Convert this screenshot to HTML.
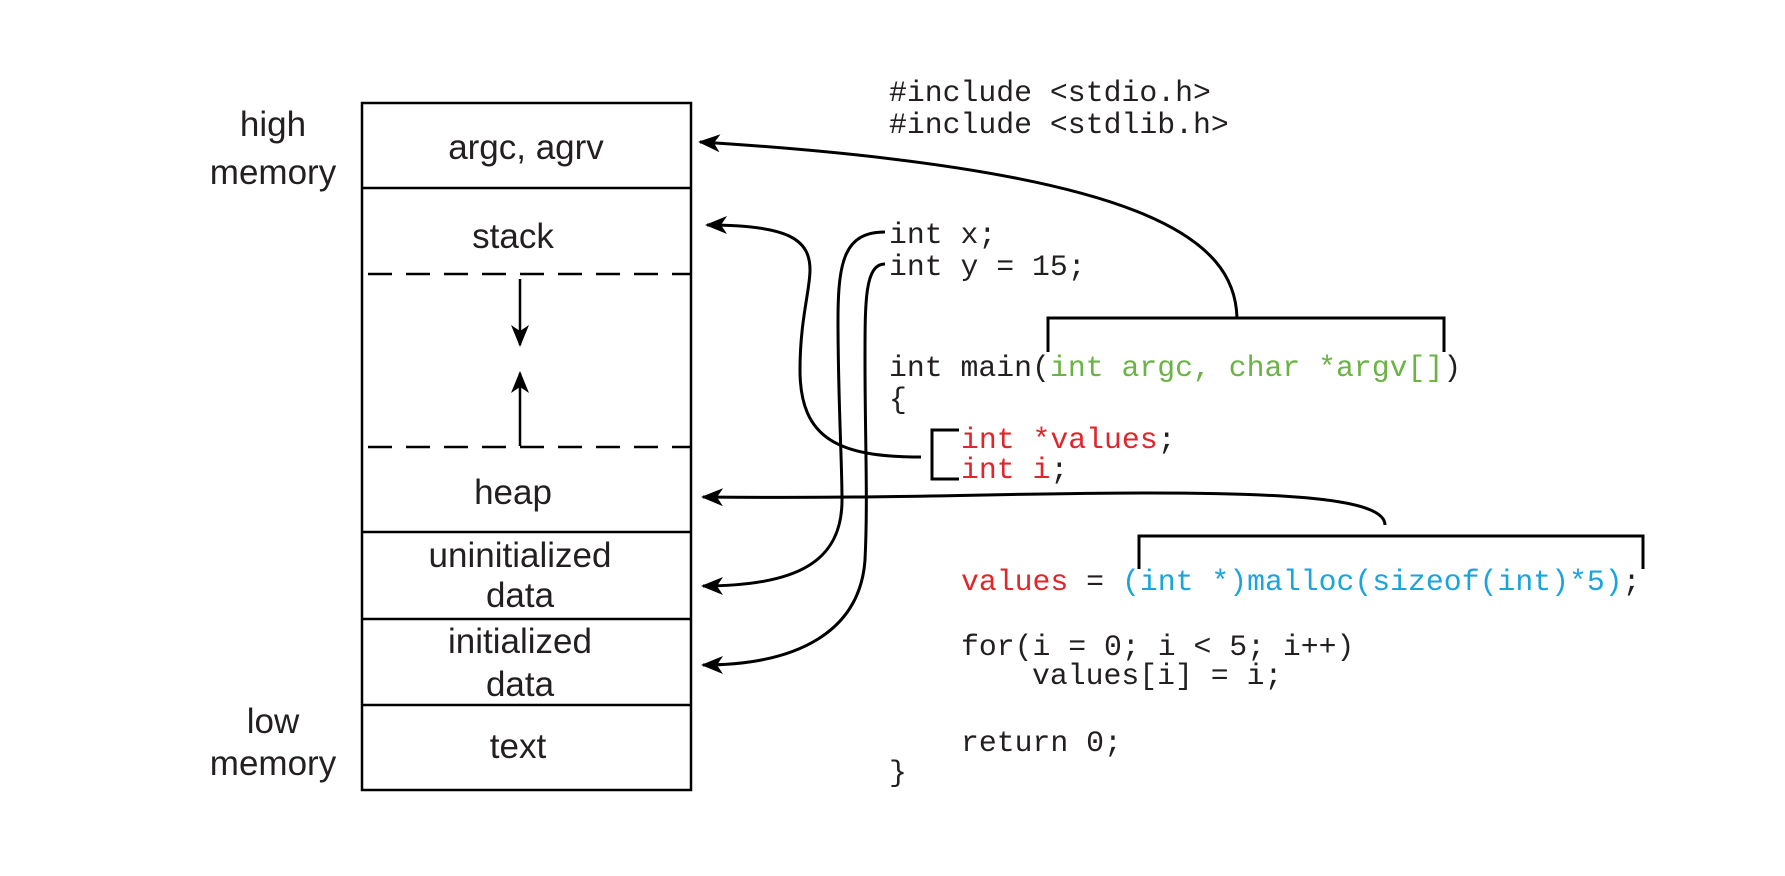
<!DOCTYPE html>
<html><head><meta charset="utf-8"><style>
html,body{margin:0;padding:0;background:#fff;}
svg{display:block}
.s{font-family:"Liberation Sans",sans-serif;font-size:35px;fill:#231f20;text-anchor:middle}
.m{font-family:"Liberation Mono",monospace;font-size:29.8px;fill:#231f20}
.r{fill:#e0262b}.g{fill:#6ab344}.b{fill:#1aa4dc}
</style></head><body>
<svg width="1785" height="876" viewBox="0 0 1785 876" xmlns="http://www.w3.org/2000/svg">
<defs>
<marker id="A" markerWidth="22" markerHeight="18" refX="20" refY="9" orient="auto" markerUnits="userSpaceOnUse"><path d="M0,0 L22,9 L0,18 L6,9 z" fill="#000"/></marker></defs>
<g stroke="#000" stroke-width="2.5" fill="none">
<rect x="362" y="103" width="329" height="687"/>
<line x1="362" y1="188" x2="691" y2="188"/>
<line x1="362" y1="532" x2="691" y2="532"/>
<line x1="362" y1="619" x2="691" y2="619"/>
<line x1="362" y1="705" x2="691" y2="705"/>
<line x1="362" y1="274" x2="691" y2="274" stroke-dasharray="24,14" stroke-dashoffset="-6"/>
<line x1="362" y1="447" x2="691" y2="447" stroke-dasharray="24,14" stroke-dashoffset="-6"/>
<line x1="520" y1="279" x2="520" y2="345" marker-end="url(#A)"/>
<line x1="520" y1="446" x2="520" y2="373" marker-end="url(#A)"/>
<path d="M1048,352 V318 H1444 V352" stroke-width="3"/>
<path d="M1237,318 C1235,240 1150,170 700,142" marker-end="url(#A)" stroke-width="3"/>
<path d="M1139,569 V536 H1643 V569" stroke-width="3"/>
<path d="M1385,525 C1385,500 1300,493 1150,493 C1000,493 900,499 703,497" marker-end="url(#A)" stroke-width="3"/>
<path d="M959,430 H932 V479 H959" stroke-width="3"/>
<path d="M921,457 C840,457 800,440 800,370 C800,320 810,290 810,270 C810,240 790,225 707,225" marker-end="url(#A)" stroke-width="3"/>
<path d="M885,232 C845,232 838,260 838,320 C838,400 842,460 842,500 C842,560 800,586 703,586" marker-end="url(#A)" stroke-width="3"/>
<path d="M885,264 C865,264 865,300 865,360 C865,440 868,500 865,560 C860,630 800,665 703,665" marker-end="url(#A)" stroke-width="3"/>
</g>
<text class="s" x="273" y="136">high</text>
<text class="s" x="273" y="184">memory</text>
<text class="s" x="273" y="733">low</text>
<text class="s" x="273" y="775">memory</text>
<text class="s" x="526" y="159">argc, agrv</text>
<text class="s" x="513" y="248">stack</text>
<text class="s" x="513" y="504">heap</text>
<text class="s" x="520" y="567">uninitialized</text>
<text class="s" x="520" y="607">data</text>
<text class="s" x="520" y="653">initialized</text>
<text class="s" x="520" y="696">data</text>
<text class="s" x="518" y="758">text</text>
<text class="m" x="889" y="101">#include &lt;stdio.h&gt;</text>
<text class="m" x="889" y="133">#include &lt;stdlib.h&gt;</text>
<text class="m" x="889" y="243">int x;</text>
<text class="m" x="889" y="275">int y = 15;</text>
<text class="m" x="889" y="376">int main(<tspan class="g">int argc, char *argv[]</tspan>)</text>
<text class="m" x="889" y="408">{</text>
<text class="m" x="961" y="448"><tspan class="r">int *values</tspan>;</text>
<text class="m" x="961" y="478"><tspan class="r">int i</tspan>;</text>
<text class="m" x="961" y="590"><tspan class="r">values</tspan> = <tspan class="b">(int *)malloc(sizeof(int)*5)</tspan>;</text>
<text class="m" x="961" y="655">for(i = 0; i &lt; 5; i++)</text>
<text class="m" x="1032" y="684">values[i] = i;</text>
<text class="m" x="961" y="751">return 0;</text>
<text class="m" x="889" y="781">}</text>
</svg>
</body></html>
